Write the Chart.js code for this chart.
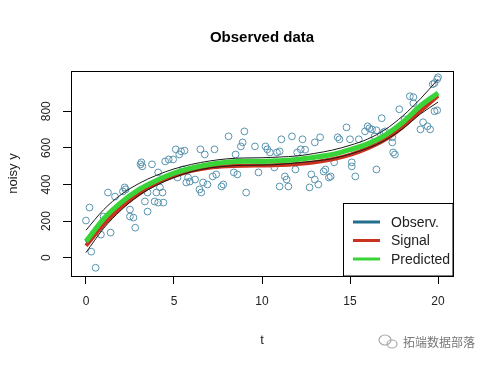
<!DOCTYPE html>
<html>
<head>
<meta charset="utf-8">
<script src="https://cdn.jsdelivr.net/npm/chart.js@4.4.1/dist/chart.umd.min.js"></script>
<style>
  html, body { margin: 0; padding: 0; background: #fff; }
  #wrap { width: 490px; height: 365px; }
</style>
</head>
<body>
<div id="wrap"><canvas id="chart" width="490" height="365"></canvas></div>
<script>
// axis ticks
const xTicks = [0, 5, 10, 15, 20];
const yTicks = [0, 200, 400, 600, 800];

// fitted curves at t = 0..20
const curveT = [0, 1, 2, 3, 4, 5, 6, 7, 8, 9, 10, 11, 12, 13, 14, 15, 16, 17, 18, 19, 20];
const observed = [86, 208, 300, 370, 421, 460, 489, 508, 520, 526, 526, 529, 536, 548, 564, 589, 621, 669, 739, 828, 898];
const signal = [65, 180, 275, 348, 405, 445, 475, 492, 500, 503, 504, 506, 512, 522, 538, 562, 597, 645, 715, 800, 885];
const predicted = [89, 212, 302, 372, 422, 462, 490, 509, 521, 527, 526, 530, 537, 549, 564, 590, 622, 670, 740, 830, 900];
const upperBand = [150, 262, 345, 405, 450, 485, 510, 528, 540, 545, 546, 550, 556, 570, 588, 614, 648, 700, 775, 868, 975];
const lowerBand = [28, 160, 260, 340, 395, 438, 470, 490, 500, 505, 506, 510, 518, 528, 541, 566, 598, 642, 705, 785, 850];

// legend entries, top to bottom
const legendLabels = ['Observ.', 'Signal', 'Predicted'];

// noisy observations
const pointT = [0, 0.2, 0.3, 0.55, 0.8, 0.85, 1.0, 1.25, 1.4, 1.65, 2.1, 2.2, 2.25, 2.5, 2.5, 2.7, 2.8,
  3.1, 3.15, 3.2, 3.35, 3.5, 3.5, 3.75, 3.9, 4.0, 4.1, 4.1, 4.2, 4.35, 4.4, 4.5, 4.7, 4.95,
  5.1, 5.2, 5.3, 5.4, 5.5, 5.6, 5.7, 5.8, 5.9, 6.2, 6.45, 6.55, 6.5, 6.65, 6.75, 6.9,
  7.2, 7.3, 7.4, 7.7, 7.8, 8.1, 8.4, 8.5, 8.6, 8.8, 8.9, 9.0, 9.1, 9.6, 9.8,
  10.2, 10.3, 10.45, 10.7, 10.85, 11.0, 11.0, 11.1, 11.3, 11.4, 11.5, 11.7, 11.9, 12.0, 12.2, 12.3, 12.45, 12.7, 12.8,
  13.0, 13.0, 13.2, 13.3, 13.5, 13.6, 13.8, 13.9, 14.1, 14.3, 14.4, 14.8, 15.0, 15.1, 15.1, 15.3, 15.5, 15.85,
  16.0, 16.1, 16.25, 16.4, 16.5, 16.5, 16.8, 16.9, 17.0, 17.4, 17.4, 17.45, 17.55, 17.8, 18.1, 18.4, 18.6, 18.6,
  19.0, 19.15, 19.4, 19.55, 19.7, 19.8, 19.8, 19.95, 19.95, 20.0];
const pointY = [203, 274, 33, -55, 170, 126, 225, 356, 137, 334, 362, 384, 373, 225, 263, 219, 164,
  510, 521, 499, 307, 252, 356, 510, 307, 356, 466, 301, 384, 356, 301, 526, 537, 537,
  592, 438, 564, 581, 482, 585, 411, 438, 416, 427, 373, 356, 592, 411, 564, 400,
  444, 592, 455, 389, 400, 663, 466, 564, 455, 608, 630, 690, 356, 608, 466,
  608, 592, 575, 493, 575, 581, 389, 647, 444, 427, 389, 663, 482, 575, 592, 647, 590, 384, 455,
  427, 630, 400, 658, 471, 482, 438, 444, 521, 658, 647, 712, 647, 521, 499, 444, 647, 690,
  718, 707, 701, 663, 482, 696, 762, 685, 690, 630, 658, 575, 564, 811, 756, 882, 877, 844,
  701, 740, 718, 701, 948, 800, 954, 975, 805, 986];

const toXY = (xs, ys) => xs.map((x, i) => ({ x: x, y: ys[i] }));

const lineSet = (label, ys, color, width, order) => ({
  label: label,
  data: toXY(curveT, ys),
  showLine: true,
  borderColor: color,
  borderWidth: width,
  pointRadius: 0,
  cubicInterpolationMode: 'monotone',
  order: order
});

// R style legend box in the bottom right corner
const boxLegend = {
  id: 'boxLegend',
  afterDatasetsDraw(chart) {
    const { ctx, chartArea } = chart;
    const left = 343.5, top = 203.5;
    ctx.save();
    ctx.fillStyle = '#fff';
    ctx.fillRect(left, top, chartArea.right - left, chartArea.bottom - top);
    ctx.strokeStyle = '#000';
    ctx.lineWidth = 1;
    ctx.strokeRect(left, top, chartArea.right - left, chartArea.bottom - top);
    ctx.font = '14px "Liberation Sans", Arial, sans-serif';
    ctx.textBaseline = 'middle';
    legendLabels.forEach((name, i) => {
      const d = chart.data.datasets.find(ds => ds.label === name);
      const y = 222 + i * 18.5;
      ctx.strokeStyle = d.borderColor;
      ctx.lineWidth = 3;
      ctx.beginPath();
      ctx.moveTo(353, y);
      ctx.lineTo(380, y);
      ctx.stroke();
      ctx.fillStyle = '#222';
      ctx.fillText(name, 391, y + 1);
    });
    // plot frame
    ctx.strokeStyle = '#000';
    ctx.lineWidth = 1;
    ctx.strokeRect(chartArea.left + 0.5, chartArea.top + 0.5,
      chartArea.right - chartArea.left, chartArea.bottom - chartArea.top);
    ctx.restore();
  },
  afterDraw(chart) {
    const ctx = chart.ctx;
    ctx.save();
    // watermark
    ctx.strokeStyle = '#aaa';
    ctx.lineWidth = 1.2;
    ctx.beginPath();
    ctx.ellipse(385, 340, 6, 5, 0, 0, Math.PI * 2);
    ctx.stroke();
    ctx.beginPath();
    ctx.ellipse(392, 344, 5, 4, 0, 0, Math.PI * 2);
    ctx.stroke();
    ctx.fillStyle = '#777';
    ctx.font = '12px "Noto Sans CJK SC", sans-serif';
    ctx.textBaseline = 'middle';
    ctx.fillText('拓端数据部落', 403, 342);
    ctx.restore();
  }
};

const tickFont = { family: '"Liberation Sans", Arial, sans-serif', size: 12 };
const gridOpts = { display: true, drawOnChartArea: false, drawTicks: true, tickLength: 8, color: '#000', lineWidth: 1 };

new Chart(document.getElementById('chart'), {
  type: 'scatter',
  data: {
    datasets: [
      lineSet('upper', upperBand, '#1a1a1a', 1, 1),
      lineSet('lower', lowerBand, '#1a1a1a', 1, 1),
      lineSet('Predicted', predicted, '#38d438', 5, 2),
      lineSet('Observ.', observed, '#236f8e', 3, 3),
      lineSet('Signal', signal, '#c8321e', 4, 4),
      {
        label: 'noisy y',
        data: toXY(pointT, pointY),
        pointRadius: 3.4,
        pointBorderWidth: 1,
        pointBackgroundColor: 'rgba(0,0,0,0)',
        borderColor: '#5893ae',
        order: 5
      }
    ]
  },
  options: {
    responsive: false,
    animation: false,
    devicePixelRatio: 1,
    layout: { padding: { top: 0, right: 37, bottom: 0, left: 0 } },
    plugins: {
      legend: { display: false },
      tooltip: { enabled: false },
      title: {
        display: true,
        text: 'Observed data',
        fullSize: false,
        color: '#000',
        font: { family: '"Liberation Sans", Arial, sans-serif', size: 15, weight: 'bold' },
        padding: { top: 29, bottom: 24 }
      }
    },
    scales: {
      x: {
        type: 'linear',
        min: -0.85,
        max: 20.85,
        afterBuildTicks: s => { s.ticks = xTicks.map(v => ({ value: v })); },
        afterFit: s => { s.height = 89; },
        grid: gridOpts,
        border: { display: false },
        ticks: { font: tickFont, color: '#222', padding: 10 },
        title: { display: true, text: 't', color: '#222', font: { family: '"Liberation Sans", Arial, sans-serif', size: 13 }, padding: { top: 0, bottom: 17 } }
      },
      y: {
        type: 'linear',
        min: -100,
        max: 1020,
        afterBuildTicks: s => { s.ticks = yTicks.map(v => ({ value: v })); },
        afterFit: s => { s.width = 71; },
        grid: gridOpts,
        border: { display: false },
        ticks: { font: tickFont, color: '#222', minRotation: 90, maxRotation: 90, crossAlign: 'center', padding: 6 },
        title: { display: true, text: 'noisy y', color: '#222', font: { family: '"Liberation Sans", Arial, sans-serif', size: 13 }, padding: { top: 6, bottom: 0 } }
      }
    }
  },
  plugins: [boxLegend]
});
</script>
</body>
</html>
